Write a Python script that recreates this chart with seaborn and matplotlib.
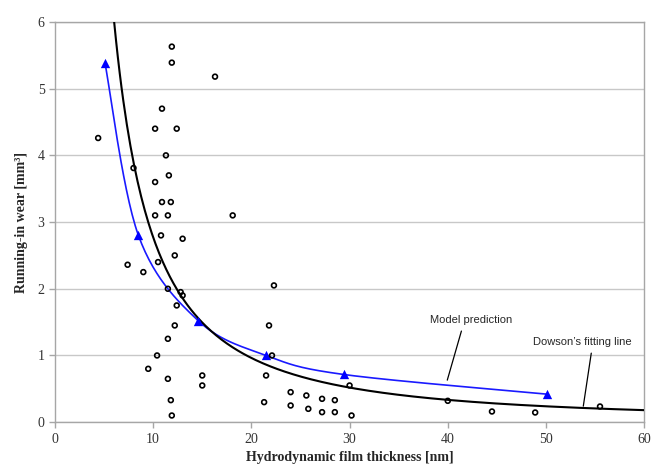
import numpy as np
import pandas as pd
import matplotlib
matplotlib.use("Agg")
import matplotlib.pyplot as plt
import seaborn as sns

# measured running-in wear vs film thickness
film_nm = [11.9, 11.9, 16.3, 10.9, 10.2, 12.4, 4.4, 11.3, 8.0, 11.6,
           10.2, 10.9, 11.8, 10.2, 11.5, 18.1, 10.8, 13.0, 12.2, 7.4,
           10.5, 9.0, 22.3, 11.5, 12.8, 13.0, 12.4, 12.2, 21.8, 11.5,
           10.4, 22.1, 9.5, 15.0, 21.5, 11.5, 15.0, 30.0, 24.0, 25.6,
           27.2, 28.5, 11.8, 21.3, 24.0, 25.8, 27.2, 28.5, 11.9, 30.2,
           40.0, 44.5, 48.9, 55.5]
wear_mm3 = [5.63, 5.39, 5.18, 4.70, 4.40, 4.40, 4.26, 4.00, 3.81, 3.70,
            3.60, 3.30, 3.30, 3.10, 3.10, 3.10, 2.80, 2.75, 2.50, 2.36,
            2.40, 2.25, 2.05, 2.00, 1.95, 1.90, 1.75, 1.45, 1.45, 1.25,
            1.00, 1.00, 0.80, 0.70, 0.70, 0.65, 0.55, 0.55, 0.45, 0.40,
            0.35, 0.33, 0.33, 0.30, 0.25, 0.20, 0.15, 0.15, 0.10, 0.10,
            0.32, 0.16, 0.145, 0.235]

# model prediction points
model_h = [5.1, 8.5, 14.6, 21.5, 29.4, 50.1]
model_wear = [5.38, 2.80, 1.52, 1.00, 0.715, 0.42]

# Dowson's fitting line, power trendline  y = a * h^b
dowson_a = 93.1
dowson_b = -1.526


def smooth_line(xs, ys, n=30):
    # Excel-style smoothed line (Catmull-Rom through the points)
    p = np.column_stack([xs, ys]).astype(float)
    p = np.vstack([p[0], p, p[-1]])
    out = []
    t = np.linspace(0, 1, n)[:, None]
    for i in range(1, len(p) - 2):
        p0, p1, p2, p3 = p[i - 1], p[i], p[i + 1], p[i + 2]
        seg = 0.5 * ((2 * p1) + (-p0 + p2) * t
                     + (2 * p0 - 5 * p1 + 4 * p2 - p3) * t ** 2
                     + (-p0 + 3 * p1 - 3 * p2 + p3) * t ** 3)
        out.append(seg)
    out = np.vstack(out)
    return out[:, 0], out[:, 1]


sns.set_style("white")

fig = plt.figure(figsize=(6.54, 4.67), dpi=100)
ax = fig.add_axes([0.084, 0.096, 0.901, 0.857])

df_pts = pd.DataFrame({"h": film_nm, "wear": wear_mm3})
df_model = pd.DataFrame({"h": model_h, "wear": model_wear})

h_fit = np.linspace(5.5, 60, 300)
df_fit = pd.DataFrame({"h": h_fit, "wear": dowson_a * h_fit ** dowson_b})

sx, sy = smooth_line(model_h, model_wear)
df_smooth = pd.DataFrame({"h": sx, "wear": sy})

sns.lineplot(data=df_smooth, x="h", y="wear", ax=ax, color="#1a1aff",
             linewidth=1.2, sort=False, estimator=None, zorder=3)
sns.scatterplot(data=df_model, x="h", y="wear", ax=ax, marker="^", s=45,
                color="#0000ff", edgecolor="#0000ff", linewidth=0, zorder=4)
sns.lineplot(data=df_fit, x="h", y="wear", ax=ax, color="black",
             linewidth=1.5, zorder=3)
sns.scatterplot(data=df_pts, x="h", y="wear", ax=ax, marker="o", s=12,
                facecolor="none", edgecolor="black", linewidth=1.2, zorder=5)

ax.set_xlim(0, 60)
ax.set_ylim(0, 6)
ax.set_xticks(range(0, 61, 10))
ax.set_yticks(range(0, 7))

ax.grid(axis="y", color="#c8c8c8", linewidth=1)
ax.grid(axis="x", visible=False)
ax.set_axisbelow(True)
for s in ax.spines.values():
    s.set_color("#a6a6a6")
    s.set_linewidth(1)

ax.tick_params(axis="both", which="major", length=4, width=1, color="#a6a6a6",
               labelsize=10, labelcolor="#333333", direction="out",
               bottom=True, left=True)
for lab in ax.get_xticklabels() + ax.get_yticklabels():
    lab.set_family("Liberation Serif")

ax.set_xlabel("Hydrodynamic film thickness [nm]", fontsize=10, fontweight="bold",
              family="Liberation Serif", labelpad=4)
ax.set_ylabel("Running-in wear [mm\u00b3]", fontsize=10, fontweight="bold",
              family="Liberation Serif", labelpad=7)

ax.annotate("Model prediction", xy=(39.95, 0.63), xytext=(42.4, 1.53),
            ha="center", va="center", fontsize=8, family="Liberation Sans",
            arrowprops=dict(arrowstyle="-", color="black", lw=0.9,
                            relpos=(0.4, 0.0), shrinkA=2, shrinkB=0))
ax.annotate("Dowson\u2019s fitting line", xy=(53.8, 0.24), xytext=(53.7, 1.2),
            ha="center", va="center", fontsize=8, family="Liberation Sans",
            arrowprops=dict(arrowstyle="-", color="black", lw=0.9,
                            relpos=(0.6, 0.0), shrinkA=2, shrinkB=0))

fig.savefig("out.png", dpi=100)
